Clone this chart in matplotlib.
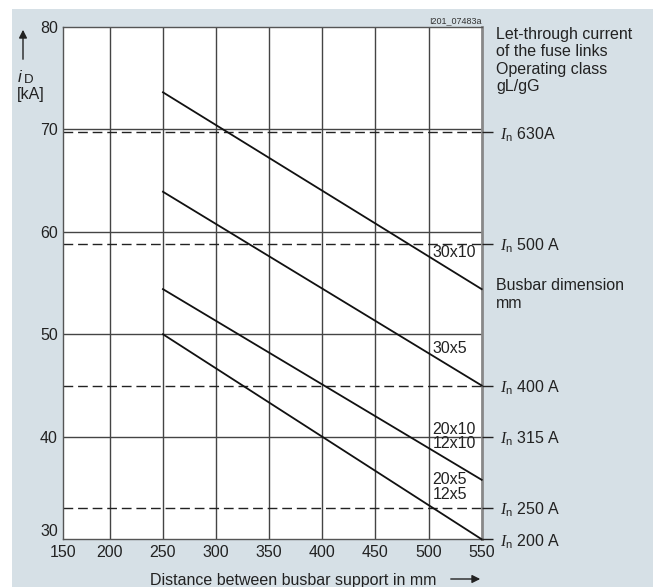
import matplotlib.pyplot as plt
from matplotlib.patches import Rectangle

plt.rcParams['font.family'] = ['Liberation Sans', 'DejaVu Sans']
plt.rcParams['mathtext.fontset'] = 'custom'
plt.rcParams['mathtext.it'] = 'Liberation Serif:italic'
plt.rcParams['mathtext.rm'] = 'Liberation Sans'

# Busbar curves: let-through current at 250 mm and 550 mm support distance
distance = [250, 550]
busbars = ["30x10", "30x5", "20x10\n12x10", "20x5\n12x5"]
i_at_250 = [73.6, 63.9, 54.4, 50.0]
i_at_550 = [54.4, 45.0, 35.8, 30.0]
label_y = [58.0, 48.6, 40.0, 35.1]

# Fuse link rated currents and their let-through current
fuse_names = ["630A", "500 A", "400 A", "315 A", "250 A", "200 A"]
fuse_current = [69.7, 58.8, 45.0, 40.0, 33.1, 30.0]
fuse_dashed = [True, True, True, False, True, False]

x_ticks = [150, 200, 250, 300, 350, 400, 450, 500, 550]
y_ticks = [30, 40, 50, 60, 70, 80]
x_left = 156.2  # the drawing starts a bit right of 150

FS = 11.5
W, H = 653, 587
fig = plt.figure(figsize=(W / 100, H / 100), dpi=100)
fig.patch.set_facecolor('white')
fig.patches.append(Rectangle((12 / W, 0), 1 - 12 / W, 1 - 9 / H, transform=fig.transFigure,
                             facecolor='#d6e0e6', edgecolor='none', zorder=-10))

ax = fig.add_axes([63.3 / W, 1 - 539.3 / H, (481.7 - 63.3) / W, (539.3 - 26.7) / H])
ax.set_facecolor('white')
ax.set_xlim(x_left, 550)
ax.set_ylim(30, 80)

grid_col = '#444444'
for x in x_ticks[1:-1]:
    ax.axvline(x, color=grid_col, lw=1.0, zorder=1)
for y in y_ticks[1:-1]:
    ax.axhline(y, color=grid_col, lw=1.0, zorder=1)

# dashed fuse levels
for y, d in zip(fuse_current, fuse_dashed):
    if d:
        ax.axhline(y, color='#222222', lw=1.0, ls=(0, (7, 3.5)), zorder=1)

# busbar lines
for y0, y1, name, ly in zip(i_at_250, i_at_550, busbars, label_y):
    ax.plot(distance, [y0, y1], color='#111111', lw=1.3, zorder=3, clip_on=False)
    ax.text(503.5, ly, name, fontsize=FS, ha='left', va='center', color='#222222',
            linespacing=0.95, zorder=4)

ax.set_xticks([x_left] + x_ticks[1:], [str(v) for v in x_ticks])
ax.set_yticks(y_ticks, [str(v) for v in y_ticks])
ax.tick_params(length=0, labelsize=FS, colors='#222222')
ax.tick_params(axis='x', pad=4)
ax.tick_params(axis='y', pad=4)
ax.get_yticklabels()[0].set_va('bottom')

for side in ['left', 'bottom', 'top']:
    ax.spines[side].set_color('#555555')
    ax.spines[side].set_linewidth(1.0)
ax.spines['right'].set_color('#888888')
ax.spines['right'].set_linewidth(2.0)

# right axis with fuse labels
ax2 = ax.twinx()
ax2.set_ylim(30, 80)
ax2.set_yticks(fuse_current, [r"$I_\mathrm{n}$ " + n for n in fuse_names])
ax2.tick_params(axis='y', length=8, width=1.0, color='#222222', labelsize=FS,
                labelcolor='#222222', pad=5)
for s in ax2.spines.values():
    s.set_visible(False)

# texts around
fig.text(496 / W, 1 - 27 / H, "Let-through current\nof the fuse links\nOperating class\ngL/gG",
         fontsize=FS, ha='left', va='top', color='#222222', linespacing=1.2)
fig.text(496 / W, 1 - 294.5 / H, "Busbar dimension\nmm", fontsize=FS, ha='left',
         va='center', color='#222222', linespacing=1.2)
fig.text(482 / W, 1 - 21 / H, "I201_07483a", fontsize=6.5, ha='right', va='center', color='#333333')

# y axis label with arrow
fig.text(18 / W, 1 - 77 / H, "i", fontsize=12, style='italic', ha='left', va='center', color='#222222')
fig.text(24 / W, 1 - 80 / H, "D", fontsize=9.5, ha='left', va='center', color='#222222')
fig.text(17 / W, 1 - 94 / H, "[kA]", fontsize=FS, ha='left', va='center', color='#222222')
ax.annotate('', xy=(23 / W, 1 - 27 / H), xytext=(23 / W, 1 - 62 / H), xycoords='figure fraction',
            arrowprops=dict(arrowstyle='-|>', color='#222222', lw=1.0, mutation_scale=12))

# x axis label with arrow
fig.text(150 / W, 1 - 580 / H, "Distance between busbar support in mm", fontsize=FS,
         ha='left', va='center', color='#222222')
ax.annotate('', xy=(483 / W, 1 - 579 / H), xytext=(448 / W, 1 - 579 / H), xycoords='figure fraction',
            arrowprops=dict(arrowstyle='-|>', color='#222222', lw=1.0, mutation_scale=12))

fig.savefig('out.png', dpi=100)
